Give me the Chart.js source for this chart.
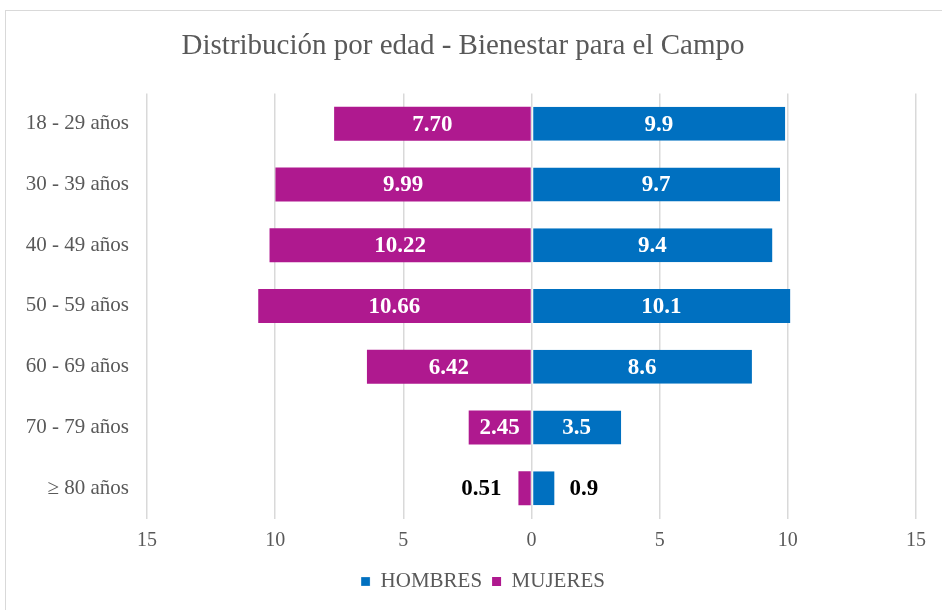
<!DOCTYPE html>
<html lang="es">
<head>
  <meta charset="UTF-8">
  <title>Distribución por edad - Bienestar para el Campo</title>
  <script src="https://cdn.jsdelivr.net/npm/chart.js"></script>
  <style>
    html, body { margin: 0; padding: 0; background: #fff; }
    #wrap { position: relative; width: 942px; height: 610px; }
  </style>
</head>
<body>

<div id="wrap">
  <canvas id="myChart" width="942" height="610"></canvas>
</div>

<script>
  const ageGroups = ['18 - 29 años', '30 - 39 años', '40 - 49 años', '50 - 59 años', '60 - 69 años', '70 - 79 años', '\u2265 80 años'];
  const hombres = [9.9, 9.7, 9.4, 10.1, 8.6, 3.5, 0.9];
  const mujeres = [7.70, 9.99, 10.22, 10.66, 6.42, 2.45, 0.51];
  const xTicks = [-15, -10, -5, 0, 5, 10, 15];

  const serif = "'Liberation Serif', 'Times New Roman', serif";
  const grey = '#595959';

  // light frame around the chart, like the spreadsheet export
  const framePlugin = {
    id: 'frame',
    beforeDraw(chart) {
      const c = chart.ctx;
      c.save();
      c.fillStyle = '#fff';
      c.fillRect(0, 0, chart.width, chart.height);
      c.strokeStyle = '#d9d9d9';
      c.lineWidth = 1;
      c.strokeRect(5.5, 10.5, 1000, 1000);
      c.restore();
    },
    afterLayout(chart) {
      // legend sits a little right of the canvas centre in the original
      if (chart.legend) {
        chart.legend.left += 20;
        chart.legend.right += 20;
      }
    }
  };

  // value labels: inside the bar, or outside when the bar is too short
  const valueLabels = {
    id: 'valueLabels',
    afterDatasetsDraw(chart) {
      const c = chart.ctx;
      c.save();
      c.font = 'bold 23px ' + serif;
      c.textBaseline = 'middle';
      chart.data.datasets.forEach((ds, i) => {
        const meta = chart.getDatasetMeta(i);
        meta.data.forEach((bar, j) => {
          const v = Math.abs(ds.data[j]);
          const txt = v.toFixed(ds.decimals);
          const w = Math.abs(bar.x - bar.base);
          if (w > 50) {
            c.fillStyle = '#fff';
            c.textAlign = 'center';
            c.fillText(txt, (bar.x + bar.base) / 2, bar.y + 1);
          } else {
            c.fillStyle = '#000';
            if (ds.data[j] < 0) {
              c.textAlign = 'right';
              c.fillText(txt, bar.x - 17, bar.y + 1);
            } else {
              c.textAlign = 'left';
              c.fillText(txt, bar.x + 15, bar.y + 1);
            }
          }
        });
      });
      c.restore();
    }
  };

  const ctx = document.getElementById('myChart').getContext('2d');

  const myChart = new Chart(ctx, {
    type: 'bar',
    data: {
      labels: ageGroups,
      datasets: [
        {
          label: 'HOMBRES',
          data: hombres,
          decimals: 1,
          backgroundColor: '#0070C0',
          borderColor: '#ffffff',
          borderWidth: { left: 1, right: 0, top: 0, bottom: 0 },
          borderSkipped: false,
          categoryPercentage: 0.8,
          barPercentage: 0.7
        },
        {
          label: 'MUJERES',
          data: mujeres.map(v => -v),
          decimals: 2,
          backgroundColor: '#AF198F',
          borderColor: '#ffffff',
          borderWidth: 0,
          categoryPercentage: 0.8,
          barPercentage: 0.7
        }
      ]
    },
    options: {
      indexAxis: 'y',
      responsive: false,
      animation: false,
      layout: { padding: { top: 18, left: 10, right: 26, bottom: 8 } },
      scales: {
        x: {
          stacked: true,
          min: -15,
          max: 15,
          afterBuildTicks(scale) {
            scale.ticks = xTicks.map(v => ({ value: v }));
          },
          afterFit(scale) { scale.height = 42.5; },
          grid: { color: '#d9d9d9', lineWidth: 1.5, drawTicks: false },
          border: { display: false },
          ticks: {
            padding: 10,
            color: grey,
            font: { family: serif, size: 20 },
            callback: v => Math.abs(v)
          }
        },
        y: {
          stacked: true,
          afterFit(scale) { scale.width = 137; },
          grid: { display: false, drawTicks: false },
          border: { display: false },
          ticks: {
            padding: 18,
            color: grey,
            font: { family: serif, size: 21 }
          }
        }
      },
      plugins: {
        title: {
          display: true,
          text: 'Distribución por edad - Bienestar para el Campo',
          color: grey,
          font: { family: serif, size: 29, weight: 'normal' },
          padding: { top: 10.6, bottom: 30 }
        },
        legend: {
          position: 'bottom',
          labels: {
            color: grey,
            boxWidth: 9,
            boxHeight: 9,
            padding: 10,
            font: { family: serif, size: 21 }
          }
        },
        tooltip: { enabled: false }
      }
    },
    plugins: [framePlugin, valueLabels]
  });
</script>

</body>
</html>
